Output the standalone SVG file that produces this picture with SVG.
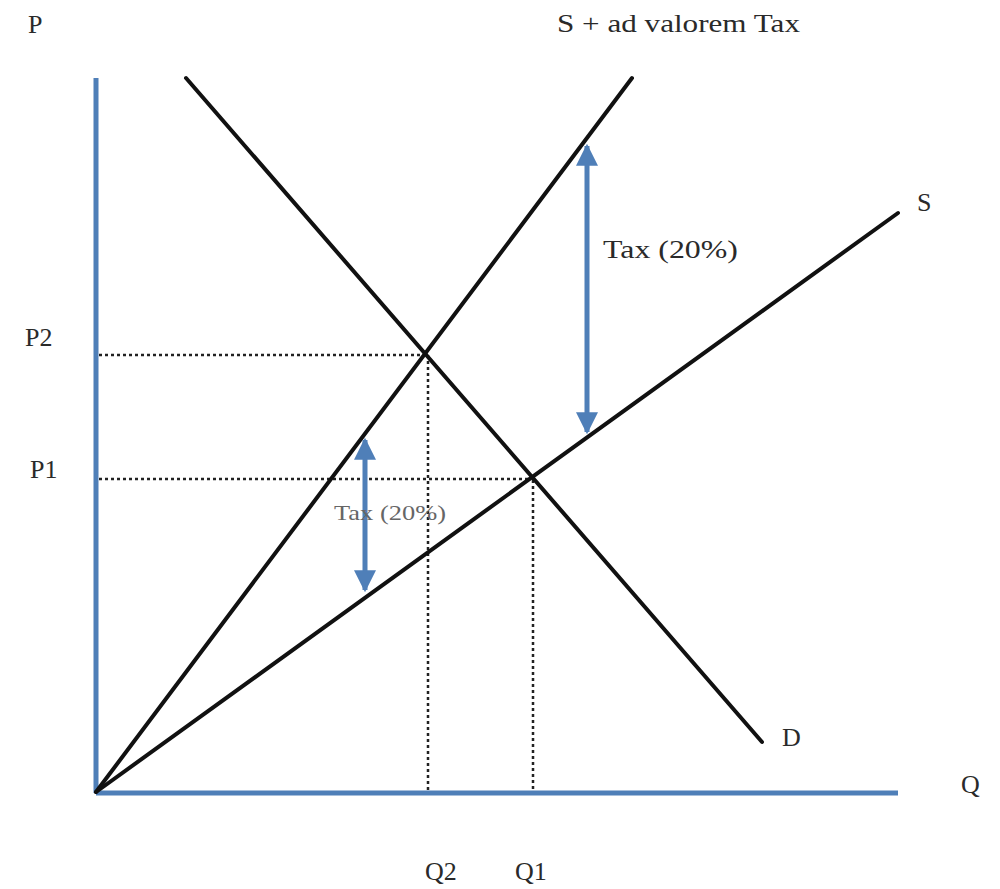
<svg xmlns="http://www.w3.org/2000/svg" width="1000" height="889" viewBox="0 0 1000 889">
<style>
.lbl{font-family:"Liberation Serif","DejaVu Serif",serif;font-size:26px;fill:#2a2a2a}
.axis{stroke:#4f7fb8;stroke-width:5;fill:none}
.curve{stroke:#111;stroke-width:4;fill:none;stroke-linecap:round}
.dot{stroke:#222;stroke-width:2.5;stroke-dasharray:3 3;fill:none}
.arr{stroke:#4f7fb8;stroke-width:5;fill:none}
</style>
<defs>
<marker id="ah" viewBox="0 0 10 10" refX="9" refY="5" markerWidth="4.4" markerHeight="4.4" orient="auto-start-reverse" markerUnits="strokeWidth">
<path d="M0,0 L10,5 L0,10 z" fill="#4f7fb8"/>
</marker>
</defs>
<rect width="1000" height="889" fill="#fff"/>
<g id="axes">
<line class="axis" x1="96" y1="78" x2="96" y2="793"/>
<line class="axis" x1="96" y1="793" x2="898" y2="793"/>
</g>
<g id="guides">
<line class="dot" x1="99" y1="355" x2="425" y2="355"/>
<line class="dot" x1="99" y1="479" x2="531" y2="479"/>
<line class="dot" x1="428" y1="355" x2="428" y2="790"/>
<line class="dot" x1="533" y1="480" x2="533" y2="790"/>
</g>
<g id="connectors">
<line id="S" class="curve" x1="96" y1="792" x2="898" y2="213"/>
<line id="S-tax" class="curve" x1="96" y1="792" x2="632" y2="78"/>
<line id="D" class="curve" x1="186" y1="78" x2="762" y2="742"/>
<line id="tax-arrow-right" class="arr" x1="587" y1="146" x2="587" y2="432" marker-start="url(#ah)" marker-end="url(#ah)"/>
<line id="tax-arrow-left" class="arr" x1="365" y1="440" x2="365" y2="590" marker-start="url(#ah)" marker-end="url(#ah)"/>
</g>
<g id="labels">
<text class="lbl" x="28" y="33">P</text>
<text class="lbl" x="557" y="32" textLength="243" lengthAdjust="spacingAndGlyphs">S + ad valorem Tax</text>
<text class="lbl" x="917" y="211">S</text>
<text class="lbl" x="603" y="258" textLength="135" lengthAdjust="spacingAndGlyphs">Tax (20%)</text>
<text class="lbl" x="334" y="520" textLength="112" lengthAdjust="spacingAndGlyphs" style="fill:#666;font-size:22px">Tax (20%)</text>
<text class="lbl" x="25" y="346">P2</text>
<text class="lbl" x="30" y="478">P1</text>
<text class="lbl" x="782" y="746">D</text>
<text class="lbl" x="961" y="793">Q</text>
<text class="lbl" x="425" y="880">Q2</text>
<text class="lbl" x="515" y="880">Q1</text>
</g>
</svg>
